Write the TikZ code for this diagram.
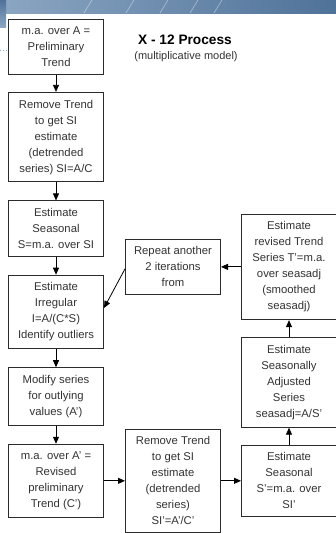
\documentclass[tikz,border=0pt]{standalone}
\usepackage{fontspec}
\setmainfont{Liberation Sans}
\usetikzlibrary{positioning, arrows.meta}
\definecolor{slideBlue}{HTML}{4F7299}
\definecolor{slideLight}{HTML}{8BA6C2}
\definecolor{boxLine}{HTML}{2B2B2B}
\definecolor{inkText}{HTML}{333333}
\tikzset{
  stage/.style = {draw=boxLine, fill=white, line width=1pt, align=center,
                  minimum width=95pt, inner xsep=3pt, inner ysep=7.5pt,
                  font=\fontsize{11.3}{16}\selectfont, text=inkText},
  fl/.style    = {-{Triangle[length=7pt, width=6pt]}, draw=black, line width=0.8pt},
  ttl/.style   = {font=\fontsize{13.7}{16}\selectfont\bfseries, text=black, inner sep=0pt},
  subttl/.style= {font=\fontsize{11}{13}\selectfont, text=inkText, inner sep=0pt}
}
\begin{document}
\begin{tikzpicture}[x=1pt, y=1pt, node distance=18pt]
  \useasboundingbox (0,0) rectangle (336,-533);
  \fill[white] (0,0) rectangle (336,-533);

  % --- slide header band
  \shade[left color=slideLight, right color=slideBlue] (0,0) rectangle (336,-13);
  \shade[top color=slideBlue, bottom color=slideLight] (0,0) rectangle (6,-27);
  \foreach \sx in {84,126,160,190,214}
    \draw[white, opacity=.45, line width=0.6pt] (\sx,-13) -- (\sx+8,0);
  \draw[slideLight, dotted, line width=0.8pt] (0,-50) -- (7,-50);

  % --- title
  \node[ttl] (title) at (185,-40) {X - 12 Process};
  \node[subttl] (subtitle) at (186,-57) {(multiplicative model)};

  % --- left column (first pass)
  \node[stage, anchor=north west] (prelim) at (8,-19) {m.a. over A =\\Preliminary\\Trend};
  \node[stage, below=17pt of prelim] (detrend) {Remove Trend\\to get SI\\estimate\\(detrended\\series) SI=A/C};
  \node[stage, below=of detrend] (seas) {Estimate\\Seasonal\\S=m.a. over SI};
  \node[stage, below=of seas] (irreg) {Estimate\\Irregular\\I=A/(C*S)\\Identify outliers};
  \node[stage, below=of irreg] (modify) {Modify series\\for outlying\\values (A')};
  \node[stage, below=of modify] (revtrend) {m.a. over A' =\\Revised\\preliminary\\Trend (C')};

  % --- bottom row and right column (second pass)
  \node[stage, right=21pt of revtrend] (detrendb) {Remove Trend\\to get SI\\estimate\\(detrended\\series)\\SI'=A'/C'};
  \node[stage, right=20pt of detrendb] (seasb) {Estimate\\Seasonal\\S'=m.a. over\\SI'};
  \node[stage, above=17pt of seasb] (seasadj) {Estimate\\Seasonally\\Adjusted\\Series\\seasadj=A/S'};
  \node[stage, above=17pt of seasadj] (trendb) {Estimate\\revised Trend\\Series T'=m.a.\\over seasadj\\(smoothed\\seasadj)};
  \node[stage, left=20pt of trendb] (repeat) {Repeat another\\2 iterations\\from};

  \draw[fl] (prelim) -- (detrend);
  \draw[fl] (detrend) -- (seas);
  \draw[fl] (seas) -- (irreg);
  \draw[fl] (irreg) -- (modify);
  \draw[fl] (modify) -- (revtrend);
  \draw[fl] (revtrend) -- (detrendb);
  \draw[fl] (detrendb) -- (seasb);
  \draw[fl] (seasb) -- (seasadj);
  \draw[fl] (seasadj) -- (trendb);
  \draw[fl] (trendb) -- (repeat);
  \draw[fl] ([yshift=-2pt]repeat.west) -- ([yshift=4pt]irreg.east);
\end{tikzpicture}
\end{document}
